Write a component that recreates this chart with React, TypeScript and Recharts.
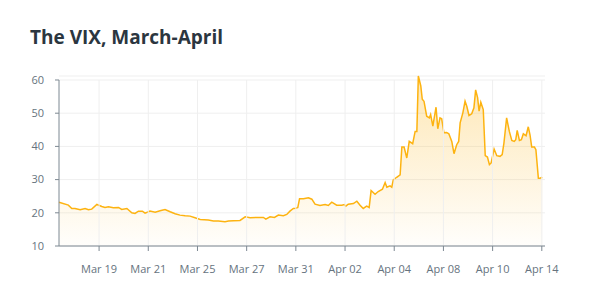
import React from "react";
import {
  AreaChart,
  Area,
  XAxis,
  YAxis,
  CartesianGrid,
  ReferenceLine,
} from "recharts";

// position in trading days since Mar 17 (intraday readings)
const times = [
  0.37, 0.75, 0.89, 1.02, 1.23, 1.43, 1.57, 1.7, 1.91, 2.11, 2.24, 2.38, 2.58,
  2.79, 2.92, 3.13, 3.33, 3.46, 3.6, 3.76, 3.87, 4.07, 4.28, 4.48, 4.68, 4.89,
  5.09, 5.29, 5.5, 5.7, 5.9, 6.11, 6.44, 6.65, 6.85, 7.12, 7.26, 7.46, 7.73,
  7.94, 8.14, 8.41, 8.68, 8.78, 8.95, 9.13, 9.29, 9.49, 9.63, 9.76, 9.9, 10.0,
  10.08, 10.15, 10.31, 10.51, 10.65, 10.78, 10.98, 11.19, 11.32, 11.46, 11.66,
  11.87, 11.97, 12.03, 12.13, 12.34, 12.48, 12.61, 12.74, 12.88, 12.98, 13.06,
  13.22, 13.35, 13.52, 13.63, 13.7, 13.83, 13.9, 13.96, 14.1, 14.24, 14.31,
  14.4, 14.51, 14.61, 14.75, 14.85, 14.92, 14.98, 15.08, 15.14, 15.21, 15.32,
  15.43, 15.48, 15.57, 15.7, 15.77, 15.86, 15.93, 16.02, 16.13, 16.22, 16.34,
  16.43, 16.54, 16.62, 16.68, 16.79, 16.88, 16.95, 17.04, 17.15, 17.24, 17.31,
  17.39, 17.45, 17.52, 17.62, 17.7, 17.79, 17.87, 17.94, 18.06, 18.17, 18.3,
  18.39, 18.46, 18.57, 18.68, 18.78, 18.88, 18.94, 19.0, 19.09, 19.17, 19.25,
  19.36, 19.45, 19.52, 19.59, 19.7, 19.76, 19.86, 19.93, 20.02,
];

const vix = [
  23.2, 22.3, 21.3, 21.3, 20.9, 21.3, 20.9, 21.1, 22.5, 21.9, 21.6, 21.8, 21.5,
  21.6, 21.0, 21.3, 20.0, 19.8, 20.5, 20.5, 19.9, 20.5, 20.2, 20.6, 21.0, 20.3,
  19.7, 19.3, 19.1, 19.0, 18.5, 18.0, 17.8, 17.5, 17.5, 17.3, 17.5, 17.6, 17.7,
  18.8, 18.5, 18.6, 18.6, 18.1, 18.8, 18.6, 19.3, 19.1, 19.5, 20.5, 21.3, 21.4,
  21.6, 24.2, 24.2, 24.5, 24.1, 22.6, 22.2, 22.5, 22.2, 23.2, 22.3,
  22.3, 22.5, 22.0, 22.6, 22.8, 23.5, 22.3, 21.3, 22.0, 21.6, 26.7,
  25.6, 26.4, 27.1, 29.1, 27.7, 28.1, 27.7, 29.9, 30.7, 31.4, 39.8,
  39.8, 36.5, 41.5, 40.8, 44.5, 44.5, 61.2, 58.2, 54.2, 53.6, 49.1,
  48.6, 49.6, 46.1, 51.8, 45.3, 48.6, 48.3, 44.1, 44.2, 43.8, 41.5,
  37.8, 40.5, 41.5, 47.1, 50.1, 53.6, 52.1, 49.3, 49.8, 51.6, 57.0,
  54.7, 50.6, 53.3, 51.1, 37.2, 36.8, 34.5, 35.0, 39.2, 37.2, 37.0,
  37.5, 41.0, 48.6, 44.5, 41.8, 41.5, 42.0, 44.8, 41.8, 42.0, 43.8,
  43.2, 45.9, 43.5, 39.8, 39.8, 39.0, 30.4, 30.4, 30.7,
];

const tickDays = [2, 4, 6, 8, 10, 12, 14, 16, 18, 20];
const tickLabels = [
  "Mar 19",
  "Mar 21",
  "Mar 25",
  "Mar 27",
  "Mar 31",
  "Apr 02",
  "Apr 04",
  "Apr 08",
  "Apr 10",
  "Apr 14",
];
const yTicks = [10, 20, 30, 40, 50, 60];

const data = times.map((t, i) => ({ t, vix: vix[i] }));

const xMin = 0.37;
const xMax = 20.13;
const yMin = 10;
const yTop = 60;

const font = "'Open Sans', sans-serif";
const tickStyle = { fontSize: 11, fill: "#66737e", fontFamily: font };
const axisColor = "#7d8892";

const App = () => {
  return (
    <div
      style={{
        position: "absolute",
        left: 0,
        top: 0,
        width: 596,
        height: 293,
        background: "#fff",
        fontFamily: font,
      }}
    >
      <div
        style={{
          position: "absolute",
          left: 30,
          top: 27,
          fontSize: 19,
          lineHeight: "20px",
          fontWeight: 700,
          color: "#2b3640",
          whiteSpace: "nowrap",
        }}
      >
        The VIX, March-April
      </div>
      <AreaChart
        width={596}
        height={293}
        data={data}
        margin={{ top: 76, right: 51, left: 0, bottom: 17 }}
      >
        <defs>
          <linearGradient id="vixFill" x1="0" y1="0" x2="0" y2="1">
            <stop offset="0%" stopColor="#fcbf3a" stopOpacity={0.62} />
            <stop offset="100%" stopColor="#fcbf3a" stopOpacity={0.03} />
          </linearGradient>
        </defs>
        <CartesianGrid stroke="#efefef" vertical={false} />
        {tickDays.map((d) => (
          <ReferenceLine
            key={d}
            segment={[
              { x: d, y: yMin },
              { x: d, y: yTop },
            ]}
            stroke="#efefef"
          />
        ))}
        <ReferenceLine
          segment={[
            { x: xMin, y: yMin },
            { x: xMin, y: yTop },
          ]}
          stroke={axisColor}
        />
        <XAxis
          dataKey="t"
          type="number"
          domain={[xMin, xMax]}
          ticks={tickDays}
          tickFormatter={(v: number) => tickLabels[tickDays.indexOf(v)]}
          tick={tickStyle}
          stroke={axisColor}
          tickSize={5}
          tickMargin={14}
          height={30}
        />
        <YAxis
          type="number"
          domain={[yMin, "dataMax"]}
          ticks={yTicks}
          tick={tickStyle}
          stroke={axisColor}
          axisLine={false}
          tickLine={{ stroke: axisColor }}
          tickSize={4}
          tickMargin={11}
          width={59}
        />
        <Area
          type="linear"
          dataKey="vix"
          stroke="#fdb310"
          strokeWidth={1.5}
          fill="url(#vixFill)"
          baseValue={yMin}
          dot={false}
          activeDot={false}
          isAnimationActive={false}
        />
      </AreaChart>
    </div>
  );
};

export default App;
